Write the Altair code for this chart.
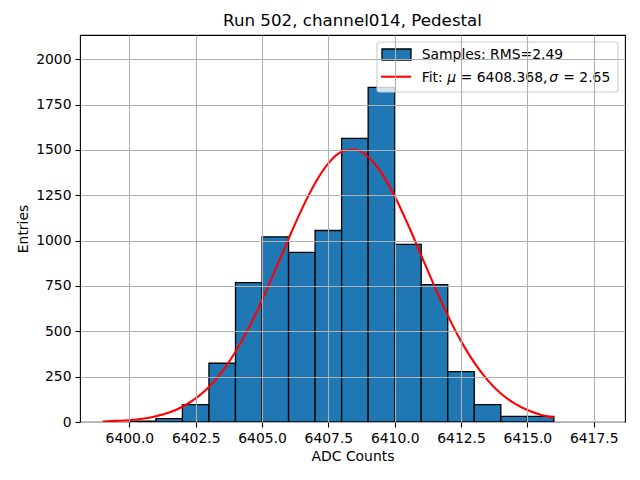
import altair as alt
import pandas as pd

# Histogram bins (lower edges), bin width 1 ADC count
bin_lo = [6400, 6401, 6402, 6403, 6404, 6405, 6406, 6407, 6408, 6409,
          6410, 6411, 6412, 6413, 6414, 6415]
counts = [5, 19, 96, 324, 769, 1021, 935, 1056, 1564, 1845,
          979, 758, 278, 96, 31, 31]

# Fit curve points
fit_x = [6399.0, 6399.5, 6400.0, 6400.5, 6401.0, 6401.5, 6402.0, 6402.5,
         6403.0, 6403.5, 6404.0, 6404.5, 6405.0, 6405.5, 6406.0, 6406.5,
         6407.0, 6407.5, 6408.0, 6408.5, 6409.0, 6409.5, 6410.0, 6410.5,
         6411.0, 6411.5, 6412.0, 6412.5, 6413.0, 6413.5, 6414.0, 6414.5,
         6415.0, 6415.5, 6416.0]
fit_y = [3, 6, 10, 18, 32, 52, 84, 130, 193, 278, 387, 519, 671, 838,
         1010, 1174, 1317, 1426, 1490, 1503, 1463, 1374, 1245, 1089, 919,
         749, 588, 446, 327, 231, 157, 104, 66, 40, 24]

title_text = "Run 502, channel014, Pedestal"
x_title = "ADC Counts"
y_title = "Entries"
legend_samples = "Samples: RMS=2.49"

FONT = "DejaVu Sans"
W, H = 545, 387
XDOM = [6398.14, 6418.68]
YDOM = [0, 2134]

hist = pd.DataFrame({"lo": bin_lo, "hi": [b + 1 for b in bin_lo], "n": counts})
fit = pd.DataFrame({"x": fit_x, "y": fit_y})

xscale = alt.Scale(domain=XDOM, nice=False, zero=False)
yscale = alt.Scale(domain=YDOM, nice=False)

xaxis = alt.Axis(title=x_title, values=[6400.0, 6402.5, 6405.0, 6407.5, 6410.0,
                                        6412.5, 6415.0, 6417.5],
                 format=".1f", grid=True, zindex=1)
yaxis = alt.Axis(title=y_title, values=list(range(0, 2001, 250)),
                 format="d", grid=True, zindex=1)

bars = alt.Chart(hist).mark_rect(
    color="#1f77b4", stroke="black", strokeWidth=1.3
).encode(
    x=alt.X("lo:Q", scale=xscale, axis=xaxis),
    x2="hi:Q",
    y=alt.Y("n:Q", scale=yscale, axis=yaxis),
    y2=alt.Y2(datum=0),
)

curve = alt.Chart(fit).mark_line(
    color="red", strokeWidth=2.1, interpolate="monotone"
).encode(
    x=alt.X("x:Q", scale=xscale),
    y=alt.Y("y:Q", scale=yscale),
)

one = pd.DataFrame({"k": [0]})
base = alt.Chart(one)

legend_box = base.mark_rect(
    fill="white", fillOpacity=0.8, stroke="#cccccc", strokeWidth=1.1,
    cornerRadius=3
).encode(x=alt.value(297), x2=alt.value(538), y=alt.value(7), y2=alt.value(57))

legend_patch = base.mark_rect(
    fill="#1f77b4", stroke="black", strokeWidth=1.3
).encode(x=alt.value(302), x2=alt.value(331), y=alt.value(14), y2=alt.value(25))

legend_line = base.mark_rule(color="red", strokeWidth=2.1).encode(
    x=alt.value(301), x2=alt.value(331), y=alt.value(41.7)
)

def txt(s, x, y, italic=False):
    return base.mark_text(
        text=s, font=FONT, fontSize=13.9, align="left", baseline="alphabetic",
        fontStyle="italic" if italic else "normal", color="black"
    ).encode(x=alt.value(x), y=alt.value(y))

legend_texts = [
    txt(legend_samples, 341.7, 24),
    txt("Fit:", 341.7, 46.7),
    txt("\u03bc", 367.3, 46.7, italic=True),
    txt("= 6408.368,", 380.7, 46.7),
    txt("\u03c3", 469.3, 46.7, italic=True),
    txt("= 2.65", 483.3, 46.7),
]

chart = alt.layer(
    bars, curve, legend_box, legend_patch, legend_line, *legend_texts
).properties(
    width=W, height=H,
    title=alt.TitleParams(title_text, font=FONT, fontSize=16.7,
                          fontWeight="normal", color="black", offset=5),
    autosize=alt.AutoSizeParams(type="none"),
    padding={"left": 72, "top": 27, "right": 5, "bottom": 44},
    background="white",
).configure_view(
    stroke="black", strokeWidth=1.1
).configure_axis(
    labelFont=FONT, labelFontSize=13.9, labelColor="black",
    titleFont=FONT, titleFontSize=13.9, titleFontWeight="normal",
    titleColor="black",
    gridColor="#b0b0b0", gridWidth=1.1, gridOpacity=1,
    domain=False, tickColor="black", tickSize=5, tickWidth=1.1,
    labelPadding=4, titlePadding=5, labelFlush=False, labelOverlap=False,
)

chart.save("out.html", embed_options={"renderer": "svg", "actions": False})
